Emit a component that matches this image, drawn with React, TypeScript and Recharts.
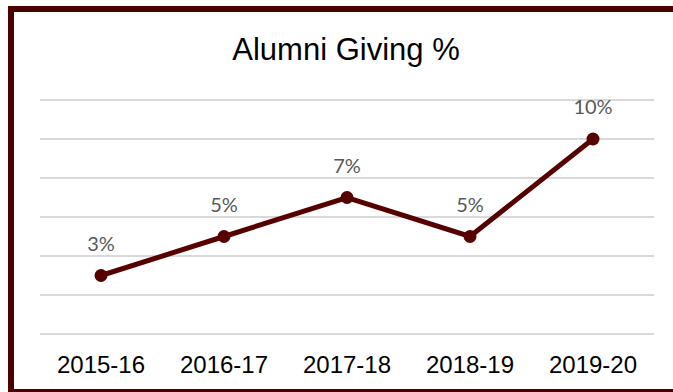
import React from 'react';
import { CartesianGrid, LabelList, Line, LineChart, XAxis, YAxis } from 'recharts';

const years = ['2015-16', '2016-17', '2017-18', '2018-19', '2019-20'];
const giving = [3, 5, 7, 5, 10];
const yTicks = [0, 2, 4, 6, 8, 10, 12];

const data = years.map((year, i) => ({ year, giving: giving[i] }));

const MAROON = '#570000';

const App = () => {
  return (
    <div
      style={{
        position: 'absolute',
        left: 0,
        top: 0,
        width: 673,
        height: 392,
        overflow: 'hidden',
        background: '#fff',
      }}
    >
      <div
        style={{
          position: 'absolute',
          left: 8,
          top: 6,
          width: 720,
          height: 389,
          boxSizing: 'border-box',
          border: '6px solid #4d0000',
        }}
      />
      <svg width={673} height={392} style={{ position: 'absolute', left: 0, top: 0 }}>
        <text
          x={346}
          y={60}
          textAnchor="middle"
          fontFamily="'Liberation Sans', Arial, sans-serif"
          fontSize={31}
          fill="#000"
        >
          Alumni Giving %
        </text>
      </svg>
      <div style={{ position: 'absolute', left: 0, top: 0 }}>
        <LineChart
          width={673}
          height={392}
          data={data}
          margin={{ top: 100, right: 19, bottom: 0, left: 40 }}
        >
          <CartesianGrid vertical={false} stroke="#d9d9d9" strokeWidth={2} />
          <XAxis
            dataKey="year"
            height={58}
            axisLine={false}
            tickLine={false}
            tickSize={0}
            tickMargin={22}
            padding={{ left: 61, right: 61 }}
            interval={0}
            tick={{
              fill: '#000',
              fontSize: 24,
              fontFamily: "'Liberation Sans', Arial, sans-serif",
            }}
          />
          <YAxis hide domain={[0, 12]} ticks={yTicks} />
          <Line
            dataKey="giving"
            stroke={MAROON}
            strokeWidth={5}
            dot={{ r: 6.5, fill: MAROON, stroke: MAROON, strokeWidth: 0 }}
            isAnimationActive={false}
          >
            <LabelList
              dataKey="giving"
              position="top"
              offset={25}
              formatter={(v: number) => `${v}%`}
              style={{ fill: '#595959', fontSize: 20, fontFamily: 'Lato, sans-serif' }}
            />
          </Line>
        </LineChart>
      </div>
    </div>
  );
};

export default App;
